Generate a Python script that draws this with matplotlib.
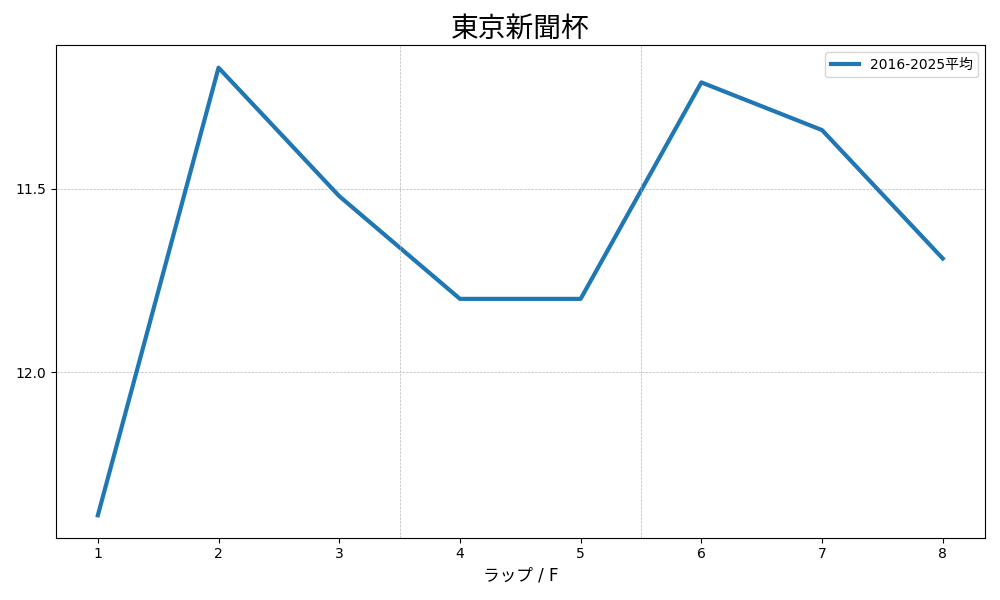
import matplotlib
matplotlib.use("Agg")
import matplotlib.pyplot as plt

plt.rcParams['font.family'] = ['DejaVu Sans', 'Noto Sans CJK JP']

laps = [1, 2, 3, 4, 5, 6, 7, 8]
avg_2016_2025 = [12.39, 11.17, 11.52, 11.80, 11.80, 11.21, 11.34, 11.69]
series_label = "2016-2025平均"
section_lines = [3.5, 5.5]

fig, ax = plt.subplots(figsize=(10, 6), dpi=100)
ax.plot(laps, avg_2016_2025, color='#1f77b4', linewidth=3, label=series_label)
ax.invert_yaxis()
ax.set_xticks(laps)
ax.set_yticks([11.5, 12.0])
ax.grid(axis='y', linestyle='--', linewidth=0.5, color='#b0b0b0', alpha=0.9)
for x in section_lines:
    ax.axvline(x, linestyle='--', linewidth=0.5, color='#b0b0b0', alpha=0.9)
ax.set_title("東京新聞杯", fontsize=20)
ax.set_xlabel("ラップ / F", fontsize=12)
ax.legend(loc='upper right')
fig.tight_layout()
fig.savefig("out.png")
